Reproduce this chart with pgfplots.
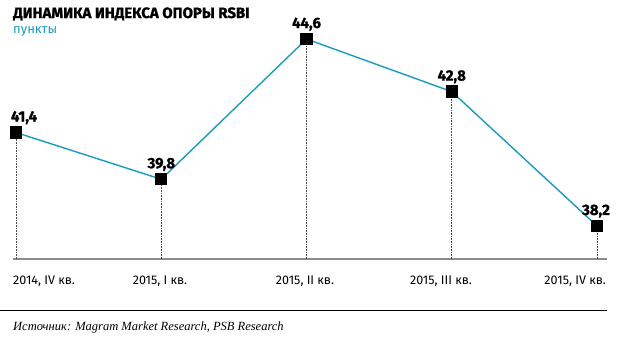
\documentclass[border=0pt]{standalone}
\usepackage{pgfplots}
\pgfplotsset{compat=1.18}
\usepackage{fontspec}
\setmainfont{Fira Sans}
\newfontfamily\titlefont[BoldFeatures={FakeBold=1.2}]{Fira Sans}
\newfontfamily\srcfont{Liberation Serif}
\definecolor{teal1}{RGB}{24,155,190}
\definecolor{axgray}{RGB}{140,140,140}
\begin{document}
\begin{tikzpicture}[x=1bp,y=1bp]
\path[use as bounding box] (0,0) rectangle (621,338);
\begin{axis}[
  at={(13bp,79bp)}, anchor=south west,
  scale only axis, width=594bp, height=229bp,
  xmin=-0.021, xmax=4.069, ymin=37.07, ymax=44.91,
  axis x line*=bottom, axis y line=none,
  x axis line style={axgray, line width=1.4bp, -},
  xtick=\empty, ytick=\empty,
  /pgf/number format/assume math mode=true,
]
\addplot[ycomb, densely dotted, black!70, line width=0.6bp, mark=none] table {
x y
0 41.4
1 39.8
2 44.6
3 42.8
4 38.2
};
\addplot[teal1, line width=1.4bp, mark=square*, mark size=5.5bp,
  mark options={black, fill=black, solid},
  nodes near coords,
  point meta=explicit symbolic,
  every node near coord/.append style={anchor=base, yshift=11bp, font=\titlefont\bfseries\fontsize{15bp}{15bp}\selectfont, text=black},
  coordinate style/.condition={x==0}{xshift=8bp},
  coordinate style/.condition={x==4}{xshift=-1bp},
] table[meta=lab] {
x y lab
0 41.4 {41,4}
1 39.8 {39,8}
2 44.6 {44,6}
3 42.8 {42,8}
4 38.2 {38,2}
};
\end{axis}
\node[anchor=base west, inner sep=0, font=\titlefont\bfseries\fontsize{15bp}{15bp}\selectfont] at (13,320) {ДИНАМИКА ИНДЕКСА ОПОРЫ RSBI};
\node[anchor=base west, inner sep=0, font=\fontsize{13bp}{13bp}\selectfont, text=teal1] at (13,305) {пункты};
\begin{scope}[every node/.style={anchor=base, inner sep=0, font=\fontsize{12.5bp}{12.5bp}\selectfont}]
\node[anchor=base west] at (13,54) {2014, IV кв.};
\node at (160,54) {2015, I кв.};
\node at (305,54) {2015, II кв.};
\node at (441,54) {2015, III кв.};
\node[anchor=base east] at (606,54) {2015, IV кв.};
\end{scope}
\draw[black, line width=0.9bp] (0,28) -- (607,28);
\node[anchor=base west, inner sep=0, font=\srcfont\itshape\fontsize{12.5bp}{12.5bp}\selectfont] at (13,8) {Источник: Magram Market Research, PSB Research};
\end{tikzpicture}
\end{document}
